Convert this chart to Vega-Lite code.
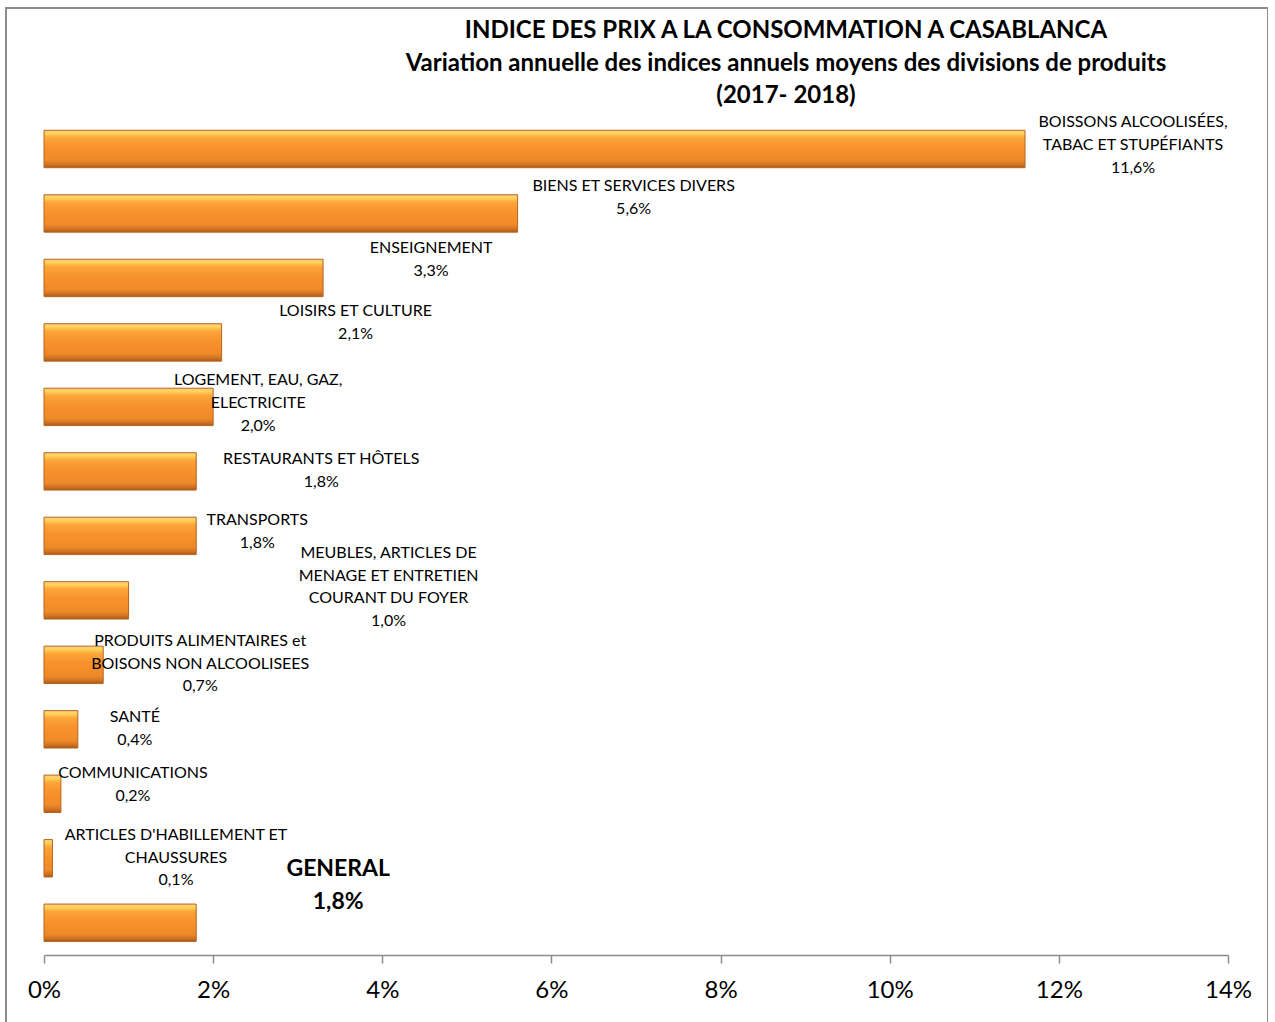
{
  "$schema": "https://vega.github.io/schema/vega-lite/v6.json",
  "autosize": {"type": "none"},
  "padding": {"left": 6, "top": 8, "right": 0, "bottom": 0},
  "width": 1262,
  "height": 1020,
  "background": "white",
  "config": {
    "view": {"stroke": "#8c8c8c", "strokeWidth": 2},
    "font": "Lato"
  },
  "title": {
    "text": ["INDICE DES PRIX A LA CONSOMMATION A CASABLANCA", "Variation annuelle des indices annuels moyens des divisions de produits", "(2017- 2018)"],
    "anchor": "middle",
    "frame": "group",
    "dx": 149,
    "offset": -100,
    "fontSize": 24,
    "fontWeight": "bold",
    "font": "Lato",
    "color": "#000000",
    "lineHeight": 32.5
  },
  "data": {
    "values": [
      {"k": 1, "name": "BOISSONS ALCOOLISÉES,\nTABAC ET STUPÉFIANTS", "v": 11.6},
      {"k": 2, "name": "BIENS ET SERVICES DIVERS", "v": 5.6},
      {"k": 3, "name": "ENSEIGNEMENT", "v": 3.3},
      {"k": 4, "name": "LOISIRS ET CULTURE", "v": 2.1},
      {"k": 5, "name": "LOGEMENT, EAU, GAZ,\nELECTRICITE", "v": 2.0},
      {"k": 6, "name": "RESTAURANTS ET HÔTELS", "v": 1.8},
      {"k": 7, "name": "TRANSPORTS", "v": 1.8},
      {"k": 8, "name": "MEUBLES, ARTICLES DE\nMENAGE ET ENTRETIEN\nCOURANT DU FOYER", "v": 1.0},
      {"k": 9, "name": "PRODUITS ALIMENTAIRES et\nBOISONS NON ALCOOLISEES", "v": 0.7},
      {"k": 10, "name": "SANTÉ", "v": 0.4},
      {"k": 11, "name": "COMMUNICATIONS", "v": 0.2},
      {"k": 12, "name": "ARTICLES D'HABILLEMENT ET\nCHAUSSURES", "v": 0.1},
      {"k": 13, "name": "GENERAL", "v": 1.8}
    ]
  },
  "transform": [
    {"calculate": "datum.name + '\\n' + replace(format(datum.v, '.1f'), '.', ',') + '%'", "as": "txt"}
  ],
  "encoding": {
    "y": {
      "field": "k",
      "type": "ordinal",
      "sort": "ascending",
      "axis": null,
      "scale": {"range": [108.75, 947], "paddingInner": 0.42, "paddingOuter": 0.21}
    },
    "x": {
      "field": "v",
      "type": "quantitative",
      "scale": {"domain": [0, 14], "range": [38, 1222], "nice": false, "zero": true},
      "axis": {
        "title": null,
        "values": [0, 2, 4, 6, 8, 10, 12, 14],
        "labelExpr": "datum.value + '%'",
        "labelFlush": false,
        "offset": -73,
        "grid": false,
        "domainColor": "#8c8c8c",
        "domainWidth": 1.5,
        "tickColor": "#8c8c8c",
        "tickWidth": 1.5,
        "tickSize": 8,
        "labelFontSize": 24,
        "labelFont": "Lato",
        "labelColor": "#000000",
        "labelPadding": 15
      }
    }
  },
  "layer": [
    {
      "mark": {
        "type": "bar",
        "stroke": "#b8651f",
        "strokeWidth": 1,
        "fill": {
          "gradient": "linear",
          "x1": 0, "y1": 0, "x2": 0, "y2": 1,
          "stops": [
            {"offset": 0, "color": "#fbc98a"},
            {"offset": 0.08, "color": "#ffd55a"},
            {"offset": 0.2, "color": "#fca53a"},
            {"offset": 0.45, "color": "#f8922c"},
            {"offset": 0.8, "color": "#ee8a28"},
            {"offset": 0.92, "color": "#cf7223"},
            {"offset": 1, "color": "#a85a1a"}
          ]
        }
      }
    },
    {"transform": [{"filter": "datum.k == 1"}], "mark": {"type": "text", "align": "center", "baseline": "middle", "lineBreak": "\n", "lineHeight": 23, "fontSize": 16, "font": "Lato", "color": "#000", "dx": 108, "dy": -27}, "encoding": {"text": {"field": "txt"}}},
    {"transform": [{"filter": "datum.k == 2"}], "mark": {"type": "text", "align": "center", "baseline": "middle", "lineBreak": "\n", "lineHeight": 23, "fontSize": 16, "font": "Lato", "color": "#000", "dx": 116, "dy": -27.5}, "encoding": {"text": {"field": "txt"}}},
    {"transform": [{"filter": "datum.k == 3"}], "mark": {"type": "text", "align": "center", "baseline": "middle", "lineBreak": "\n", "lineHeight": 23, "fontSize": 16, "font": "Lato", "color": "#000", "dx": 108, "dy": -30}, "encoding": {"text": {"field": "txt"}}},
    {"transform": [{"filter": "datum.k == 4"}], "mark": {"type": "text", "align": "center", "baseline": "middle", "lineBreak": "\n", "lineHeight": 23, "fontSize": 16, "font": "Lato", "color": "#000", "dx": 134, "dy": -31.4}, "encoding": {"text": {"field": "txt"}}},
    {"transform": [{"filter": "datum.k == 5"}], "mark": {"type": "text", "align": "center", "baseline": "middle", "lineBreak": "\n", "lineHeight": 23, "fontSize": 16, "font": "Lato", "color": "#000", "dx": 45, "dy": -27}, "encoding": {"text": {"field": "txt"}}},
    {"transform": [{"filter": "datum.k == 6"}], "mark": {"type": "text", "align": "center", "baseline": "middle", "lineBreak": "\n", "lineHeight": 23, "fontSize": 16, "font": "Lato", "color": "#000", "dx": 125, "dy": -12.4}, "encoding": {"text": {"field": "txt"}}},
    {"transform": [{"filter": "datum.k == 7"}], "mark": {"type": "text", "align": "center", "baseline": "middle", "lineBreak": "\n", "lineHeight": 23, "fontSize": 16, "font": "Lato", "color": "#000", "dx": 61, "dy": -16}, "encoding": {"text": {"field": "txt"}}},
    {"transform": [{"filter": "datum.k == 8"}], "mark": {"type": "text", "align": "center", "baseline": "middle", "lineBreak": "\n", "lineHeight": 22.7, "fontSize": 16, "font": "Lato", "color": "#000", "dx": 260, "dy": -47.3}, "encoding": {"text": {"field": "txt"}}},
    {"transform": [{"filter": "datum.k == 9"}], "mark": {"type": "text", "align": "center", "baseline": "middle", "lineBreak": "\n", "lineHeight": 22.5, "fontSize": 16, "font": "Lato", "color": "#000", "dx": 97, "dy": -23.8}, "encoding": {"text": {"field": "txt"}}},
    {"transform": [{"filter": "datum.k == 10"}], "mark": {"type": "text", "align": "center", "baseline": "middle", "lineBreak": "\n", "lineHeight": 23, "fontSize": 16, "font": "Lato", "color": "#000", "dx": 57, "dy": -12.3}, "encoding": {"text": {"field": "txt"}}},
    {"transform": [{"filter": "datum.k == 11"}], "mark": {"type": "text", "align": "center", "baseline": "middle", "lineBreak": "\n", "lineHeight": 23, "fontSize": 16, "font": "Lato", "color": "#000", "dx": 72, "dy": -20.8}, "encoding": {"text": {"field": "txt"}}},
    {"transform": [{"filter": "datum.k == 12"}], "mark": {"type": "text", "align": "center", "baseline": "middle", "lineBreak": "\n", "lineHeight": 22.5, "fontSize": 16, "font": "Lato", "color": "#000", "dx": 123.5, "dy": -23.2}, "encoding": {"text": {"field": "txt"}}},
    {"transform": [{"filter": "datum.k == 13"}], "mark": {"type": "text", "align": "center", "baseline": "middle", "lineBreak": "\n", "lineHeight": 33, "fontSize": 23, "fontWeight": "bold", "font": "Lato", "color": "#000", "dx": 142, "dy": -53.7}, "encoding": {"text": {"field": "txt"}}}
  ]
}
